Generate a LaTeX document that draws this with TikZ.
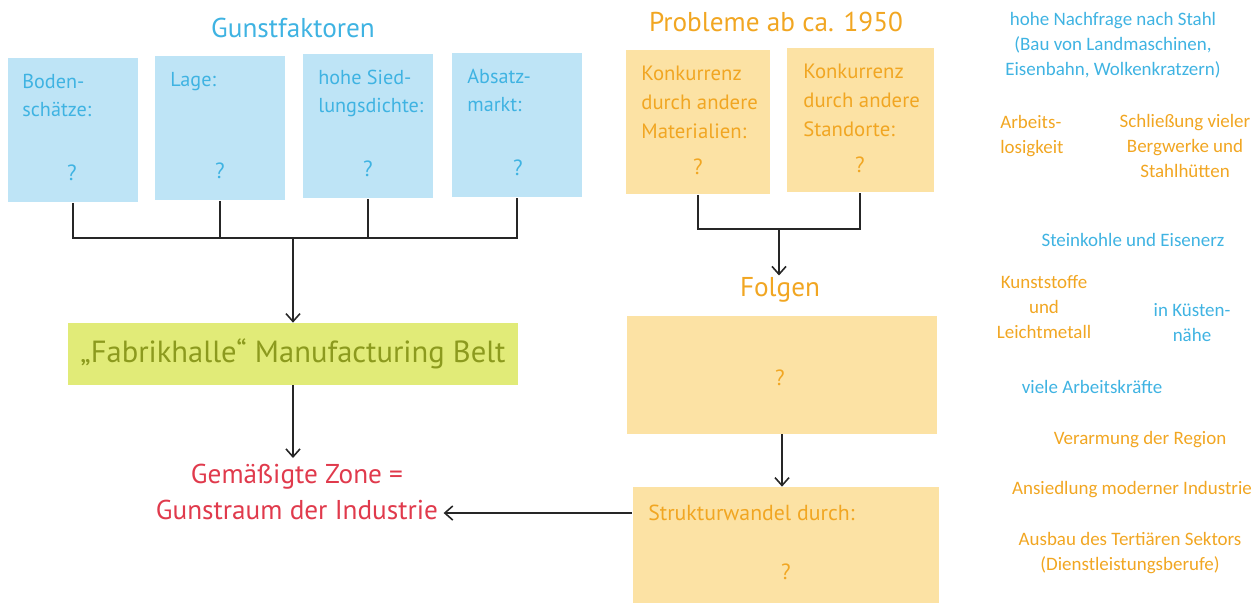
\documentclass[tikz,border=0pt]{standalone}
\usepackage{fontspec}
\setmainfont{Carlito}
\newfontfamily\handfont{PT Sans}
\usetikzlibrary{positioning, arrows.meta}

\definecolor{gunstblue}{HTML}{BEE4F6}
\definecolor{gunsttext}{HTML}{3FB3E2}
\definecolor{problemfill}{HTML}{FCE2A4}
\definecolor{problemtext}{HTML}{F1A622}
\definecolor{beltfill}{HTML}{E1EB78}
\definecolor{belttext}{HTML}{8C9A1E}
\definecolor{zonered}{HTML}{E03A4C}

\begin{document}
\begin{tikzpicture}[
    x=0.02cm, y=-0.02cm,
    font=\handfont, % handwriting look for the diagram itself
    % --- STYLES ---
    blue_box/.style={fill=gunstblue, minimum width=2.6cm, minimum height=2.9cm, inner sep=0pt},
    orange_box/.style={fill=problemfill, inner sep=0pt},
    blue_label/.style={text=gunsttext, anchor=north west, align=left, inner sep=0pt,
        font=\handfont\fontsize{11.5pt}{16pt}\selectfont},
    orange_label/.style={text=problemtext, anchor=north west, align=left, inner sep=0pt,
        font=\handfont\fontsize{11.8pt}{16.5pt}\selectfont},
    q_mark/.style={inner sep=0pt, font=\handfont\fontsize{12.5pt}{14pt}\selectfont},
    title_text/.style={inner sep=1pt, font=\handfont\fontsize{15.5pt}{18pt}\selectfont},
    side_text/.style={align=center, inner sep=0pt, font=\fontsize{10.8pt}{14.2pt}\selectfont},
    line_style/.style={black!85, line width=0.9pt},
    arrow_style/.style={line_style, -{Straight Barb[length=4.5pt, width=8pt]}}
]
\useasboundingbox (0,0) rectangle (1256,603);

% --- GUNSTFAKTOREN (blue) ---
\node[title_text, text=gunsttext] (G_title) at (293,28) {Gunstfaktoren};
\node[blue_box] (G1) at (73,130) {};
\node[blue_box] (G2) at (220,128) {};
\node[blue_box] (G3) at (368,126) {};
\node[blue_box] (G4) at (517,125) {};
\node[blue_label] (G1_text) at (22,74) {Boden-\\schätze:};
\node[blue_label] (G2_text) at (170,72) {Lage:};
\node[blue_label] (G3_text) at (318,70) {hohe Sied-\\lungsdichte:};
\node[blue_label] (G4_text) at (467,69) {Absatz-\\markt:};
\node[q_mark, text=gunsttext] (G1_q) at (72,173) {?};
\node[q_mark, text=gunsttext] (G2_q) at (220,171) {?};
\node[q_mark, text=gunsttext] (G3_q) at (368,169) {?};
\node[q_mark, text=gunsttext] (G4_q) at (518,168) {?};

% --- MANUFACTURING BELT ---
\node[fill=beltfill, minimum width=9.02cm, minimum height=1.24cm, inner sep=0pt,
      text=belttext, font=\handfont\fontsize{17.4pt}{20pt}\selectfont] (belt) at (293,354)
      {„Fabrikhalle“ Manufacturing Belt};
\node[align=center, text=zonered, anchor=north, inner sep=3pt,
      font=\handfont\fontsize{15.5pt}{21pt}\selectfont] (zone) at (297,458)
      {Gemäßigte Zone =\\Gunstraum der Industrie};

% --- PROBLEME (orange) ---
\node[title_text, text=problemtext] (P_title) at (776,22) {Probleme ab ca. 1950};
\node[orange_box, minimum width=2.88cm, minimum height=2.9cm] (P1) at (698,122) {};
\node[orange_box, minimum width=2.94cm, minimum height=2.9cm] (P2) at (860,120) {};
\node[orange_label] (P1_text) at (641,66) {Konkurrenz\\durch andere\\Materialien:};
\node[orange_label] (P2_text) at (803,64) {Konkurrenz\\durch andere\\Standorte:};
\node[q_mark, text=problemtext] (P1_q) at (698,167) {?};
\node[q_mark, text=problemtext] (P2_q) at (860,165) {?};

\node[title_text, text=problemtext] (folgen) at (780,290) {Folgen};
\node[orange_box, minimum width=6.22cm, minimum height=2.36cm] (F_box) at (782,375) {};
\node[q_mark, text=problemtext] (F_q) at (780,378) {?};
\node[orange_box, minimum width=6.14cm, minimum height=2.32cm] (S_box) at (786,545) {};
\node[orange_label, anchor=west, font=\handfont\fontsize{12.4pt}{15pt}\selectfont] (S_text) at (648,513) {Strukturwandel durch:};
\node[q_mark, text=problemtext] (S_q) at (786,572) {?};

% --- CONNECTORS ---
\coordinate (g_bar) at (293,238);
\draw[line_style] (G1.south) |- (g_bar) -| (G4.south);
\draw[line_style] (G2.south) -- (G2.south |- g_bar);
\draw[line_style] (G3.south) -- (G3.south |- g_bar);
\draw[arrow_style] (g_bar) -- (belt.north);
\draw[arrow_style] (belt.south) -- (belt.south |- zone.north);

\coordinate (p_bar) at (779,229);
\draw[line_style] (P1.south) |- (p_bar) -| (P2.south);
\draw[arrow_style] (p_bar) -- (p_bar |- folgen.north);
\draw[arrow_style] (F_box.south) -- (F_box.south |- S_box.north);
\draw[arrow_style] (S_box.west |- S_text) -- (zone.east |- S_text);

% --- WORD BANK (right column) ---
\node[side_text, text=gunsttext] (w1) at (1113,45) {hohe Nachfrage nach Stahl\\(Bau von Landmaschinen,\\Eisenbahn, Wolkenkratzern)};
\node[side_text, text=problemtext, align=left, anchor=west] (w2) at (1000,136) {Arbeits-\\losigkeit};
\node[side_text, text=problemtext] (w3) at (1185,146) {Schließung vieler\\Bergwerke und\\Stahlhütten};
\node[side_text, text=gunsttext] (w4) at (1133,240) {Steinkohle und Eisenerz};
\node[side_text, text=problemtext] (w5) at (1044,307) {Kunststoffe\\und\\Leichtmetall};
\node[side_text, text=gunsttext] (w6) at (1192,323) {in Küsten-\\nähe};
\node[side_text, text=gunsttext] (w7) at (1092,387) {viele Arbeitskräfte};
\node[side_text, text=problemtext] (w8) at (1140,440) {Verarmung der Region};
\node[side_text, text=problemtext] (w9) at (1132,490) {Ansiedlung moderner Industrie};
\node[side_text, text=problemtext] (w10) at (1130,553) {Ausbau des Tertiären Sektors\\(Dienstleistungsberufe)};

\end{tikzpicture}
\end{document}
